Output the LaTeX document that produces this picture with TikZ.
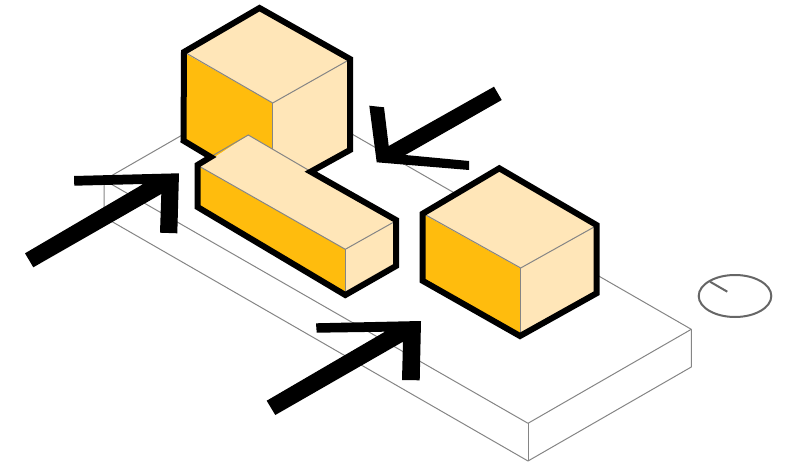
\documentclass[tikz,border=0pt]{standalone}
\definecolor{amberface}{HTML}{FFBC0D}
\definecolor{creamface}{HTML}{FFE6B8}
\definecolor{thinline}{HTML}{858585}
\definecolor{dialline}{HTML}{666666}
\tikzset{
  plate/.style={draw=thinline,line width=1pt,line join=round},
  amber/.style={fill=amberface,draw=none},
  cream/.style={fill=creamface,draw=none},
  crease/.style={draw=thinline,line width=1pt},
  outline/.style={draw=black,line width=6pt,line join=miter,miter limit=6},
  arrowshape/.style={fill=black,draw=none},
  dial/.style={draw=dialline,line width=2pt}
}
\begin{document}
\begin{tikzpicture}[x=1pt,y=-1pt]
\useasboundingbox (0,0) rectangle (792,465);
% platform
\draw[plate] (104,180) -- (268,85.7) -- (691.3,329.3) -- (528,423.3) -- cycle;
\draw[plate] (104,180) -- (104,217) -- (528,461) -- (691.3,367) -- (691.3,329.3);
\draw[plate] (528,423.3) -- (528,461);
% tall cube
\fill[amber] (185,53) -- (272.7,103) -- (272.7,160) -- (210,157) -- (184,141) -- cycle;
\fill[cream] (259.5,8) -- (350,59) -- (350,150) -- (311,172) -- (272.7,160) -- (272.7,103) -- (185,53) -- cycle;
\draw[crease] (186,53) -- (272.7,103) -- (347,61);
\draw[crease] (272.7,103) -- (272.7,150);
% bar
\fill[cream] (248.3,135) -- (396,221) -- (396,265) -- (345.3,295) -- (345.3,249.3) -- (200,166.7) -- cycle;
\fill[amber] (198,166) -- (345.3,249.3) -- (345.3,295) -- (198,207) -- cycle;
\draw[crease] (212,156) -- (248.3,135) -- (311,171.6);
\draw[crease] (200,166.7) -- (345.3,249.3) -- (395.7,221);
\draw[crease] (345.3,249.3) -- (345.3,293);
\draw[outline] (259.5,8) -- (350,59) -- (350,150) -- (310.7,171.7) -- (396,220) -- (396,266) -- (345.3,295) -- (197.5,207) -- (197.5,165) -- (210.7,157) -- (183.5,140.7) -- (184,52) -- cycle;
% block
\fill[cream] (499.3,168.3) -- (597.3,225) -- (597.3,293.3) -- (520,336.7) -- (520.7,268) -- (421.7,213.3) -- cycle;
\fill[amber] (422,213.5) -- (520.7,268.5) -- (520,336.7) -- (421.7,280.7) -- cycle;
\draw[crease] (424,214) -- (520.7,268) -- (595,226.5);
\draw[crease] (520.7,268) -- (520.7,334);
\draw[outline] (499.3,168.3) -- (596.5,225) -- (596.5,293.3) -- (520,336) -- (422.5,280.7) -- (422.5,213.8) -- cycle;
% arrows
\fill[arrowshape] (25,253.3) -- (143.3,184) -- (74.3,185.7) -- (74,176) -- (179,173.3) -- (177.3,233.3) -- (160,232.7) -- (161.3,194) -- (33.3,267.3) -- cycle;
\fill[arrowshape] (266.7,400.7) -- (385,331.7) -- (316.7,332.7) -- (316,323.3) -- (421,321) -- (419.7,380.3) -- (402,380) -- (403,341.7) -- (275.3,415) -- cycle;
\fill[arrowshape] (494,86.7) -- (388.7,146) -- (384,107.3) -- (369.3,105.7) -- (376.7,162.3) -- (469,170) -- (469,161) -- (405.3,155) -- (501.7,100) -- cycle;
% dial
\draw[dial] (735,296) ellipse [x radius=36.3,y radius=21];
\draw[dial] (710,281.7) -- (727.3,291.7);
\end{tikzpicture}
\end{document}
